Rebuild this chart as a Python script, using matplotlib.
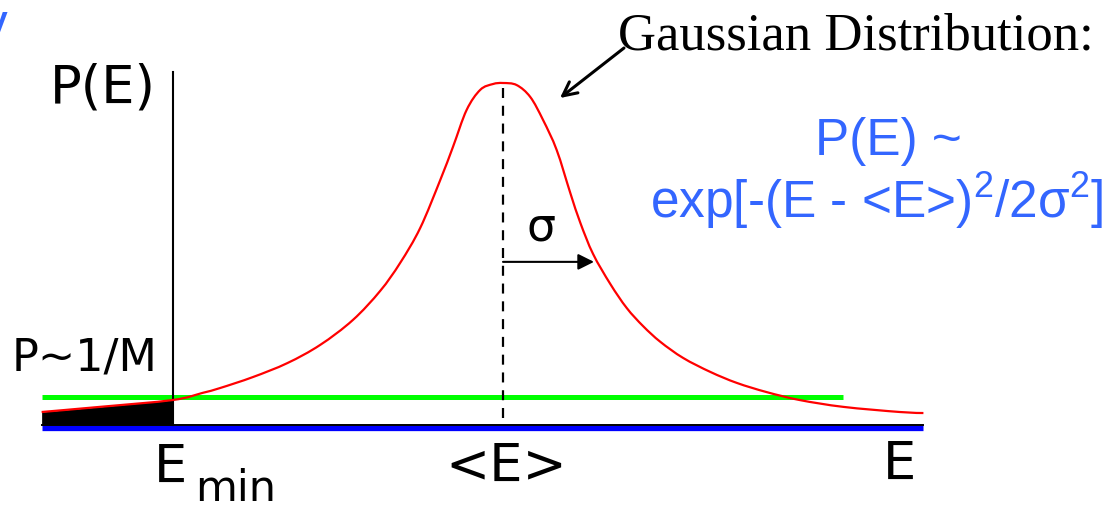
import matplotlib
matplotlib.use("Agg")
import matplotlib.pyplot as plt
from matplotlib.path import Path
from matplotlib.patches import PathPatch
import numpy as np

# Energy in units of sigma, measured from the mean energy <E>
E_curve = [-5.07, -4.43, -3.63, -3.30, -3.11, -2.75, -2.37, -2.01, -1.65, -1.35,
           -1.13, -0.91, -0.69, -0.55, -0.40, -0.25, -0.11, 0.00, 0.15, 0.30,
           0.44, 0.59, 0.74, 0.85, 0.99, 1.18, 1.36, 1.54, 1.73, 1.98,
           2.28, 2.57, 2.90, 3.26, 3.74, 4.36, 4.62]
# Probability, normalised to the peak
P_curve = [0.038, 0.053, 0.073, 0.094, 0.108, 0.140, 0.181, 0.234, 0.307, 0.392,
           0.474, 0.576, 0.716, 0.813, 0.921, 0.980, 0.997, 1.000, 0.994, 0.959,
           0.892, 0.804, 0.678, 0.591, 0.500, 0.412, 0.342, 0.289, 0.243, 0.196,
           0.155, 0.123, 0.096, 0.073, 0.053, 0.038, 0.035]

E_min = -3.63          # lowest energy reached
E_mean = 0.0           # mean energy <E>
sigma = 1.0            # width of the distribution
P_threshold = 0.082    # P ~ 1/M level
E_threshold_end = 3.74 # right end of the 1/M line
P_axis_top = 1.032     # top of the P(E) axis line

plt.rcParams["mathtext.fontset"] = "custom"
plt.rcParams["mathtext.rm"] = "Liberation Sans"
plt.rcParams["mathtext.it"] = "Liberation Sans:italic"

W, H = 1114, 505
fig = plt.figure(figsize=(W / 100, H / 100), dpi=100)
ax = fig.add_axes([0, 0, 1, 1])
# pixel-to-data frame: 91 px per sigma, 342 px per unit probability
ax.set_xlim((0 - 503) / 91, (W - 503) / 91)
ax.set_ylim((425 - H) / 342, 425 / 342)
ax.axis("off")


def px(x, y):
    """Figure-fraction position from pixel coordinates (origin top-left)."""
    return x / W, 1 - y / H


def smooth_path(xs, ys):
    """Catmull-Rom spline through the points, as a cubic Bezier path."""
    pts = np.column_stack([xs, ys])
    ext = np.vstack([pts[0], pts, pts[-1]])
    verts = [pts[0]]
    codes = [Path.MOVETO]
    for i in range(1, len(ext) - 2):
        p0, p1, p2, p3 = ext[i - 1], ext[i], ext[i + 1], ext[i + 2]
        verts += [p1 + (p2 - p0) / 6, p2 - (p3 - p1) / 6, p2]
        codes += [Path.CURVE4] * 3
    return Path(verts, codes)


E = np.array(E_curve)
P = np.array(P_curve)
E_lo, E_hi = E[0], E[-1]

# baseline: blue bar with a thin black axis line on top
ax.plot([E_lo, E_hi], [-0.010, -0.010], color="#0000ff", lw=3.8,
        solid_capstyle="butt", zorder=2)
ax.plot([E_lo, E_hi], [0.0, 0.0], color="black", lw=1.4, zorder=3)

# tail of the distribution below E_min
mask = E <= E_min + 1e-9
ax.fill_between(E[mask], 0, P[mask], color="black", lw=0, zorder=3)

# P ~ 1/M threshold
ax.plot([E_lo, E_threshold_end], [P_threshold, P_threshold], color="#00ff00",
        lw=3.6, solid_capstyle="butt", zorder=2)

# vertical P(E) axis at E_min
ax.plot([E_min, E_min], [0, P_axis_top], color="black", lw=1.5, zorder=4)

# distribution curve
ax.add_patch(PathPatch(smooth_path(E, P), facecolor="none",
                       edgecolor="#ff0000", lw=1.6, zorder=5))

# mean energy marker
ax.plot([E_mean, E_mean], [0.02, 1.0], color="black", lw=1.6,
        dashes=(4.5, 3.5), zorder=4)

# sigma arrow
ax.annotate("", xy=(E_mean + sigma, 0.477), xytext=(E_mean, 0.477),
            arrowprops=dict(arrowstyle="-|>", color="black", lw=1.5,
                            mutation_scale=24, shrinkA=0, shrinkB=0),
            zorder=6)

sans = "DejaVu Sans"
fig.text(*px(541, 228), "σ", fontsize=33, family=sans, ha="center", va="center")

fig.text(*px(50, 103), "P(E)", fontsize=38, family=sans, ha="left", va="baseline")
fig.text(*px(12, 370), "P~1/M", fontsize=32, family=sans, ha="left", va="baseline")
fig.text(*px(154, 483), "E", fontsize=38, family=sans, ha="left", va="baseline")
fig.text(*px(195, 501), "min", fontsize=31, family=sans, ha="left", va="baseline")
fig.text(*px(506, 482), "<E>", fontsize=38, family=sans, ha="center", va="baseline")
fig.text(*px(883, 480), "E", fontsize=38, family=sans, ha="left", va="baseline")

fig.text(*px(618, 50), "Gaussian Distribution:", fontsize=38,
         family="Liberation Serif", ha="left", va="baseline")
ax.annotate("", xy=px(560, 98), xytext=px(624, 48),
            xycoords="figure fraction", textcoords="figure fraction",
            arrowprops=dict(arrowstyle="->", color="black", lw=2.2,
                            mutation_scale=25, shrinkA=0, shrinkB=0))

blue = "#3366ff"
fig.text(*px(888, 155), "P(E) ~", fontsize=37, family="Liberation Sans",
         color=blue, ha="center", va="baseline")
fig.text(*px(877, 218), r"exp[-(E - <E>)$^{2}$/2σ$^{2}$]", fontsize=37,
         family="Liberation Sans", color=blue, ha="center", va="baseline")
fig.text(*px(8, 40), "y", fontsize=37, family="Liberation Sans",
         color=blue, ha="right", va="baseline")

fig.savefig("out.png", dpi=100, facecolor="white")
